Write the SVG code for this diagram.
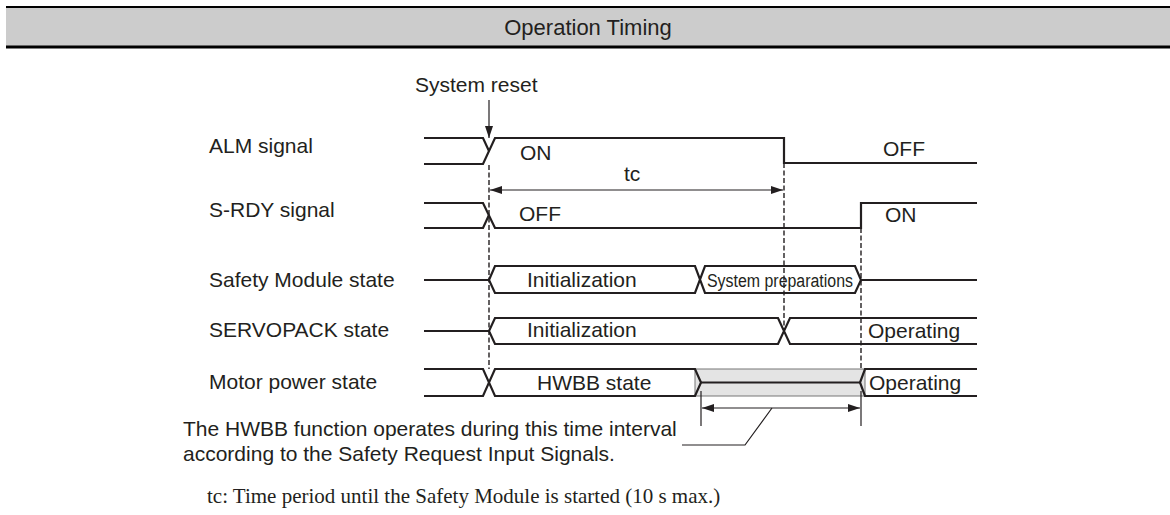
<svg xmlns="http://www.w3.org/2000/svg" width="1170" height="515" viewBox="0 0 1170 515">
<defs>
<style>
.t{font-family:"Liberation Sans",Arial,sans-serif;font-size:21px;fill:#231f20}
.s{font-family:"Liberation Serif","Times New Roman",serif;font-size:21px;fill:#231f20}
.w{fill:none;stroke:#231f20;stroke-width:2.2;stroke-linejoin:miter}
.d{fill:none;stroke:#231f20;stroke-width:1.4;stroke-dasharray:5 2.5}
.a{fill:none;stroke:#231f20;stroke-width:1.2}
</style>
<marker id="ah" viewBox="0 0 12 8" refX="12" refY="4" markerWidth="12" markerHeight="8" markerUnits="userSpaceOnUse" orient="auto-start-reverse">
<path d="M0,0 L12,4 L0,8 Z" fill="#231f20"/>
</marker>
</defs>
<rect width="1170" height="515" fill="#ffffff"/>
<g id="header">
<rect x="6" y="7" width="1164" height="40" fill="#cccccc"/>
<line x1="6" y1="7" x2="1170" y2="7" stroke="#000" stroke-width="2"/>
<line x1="6" y1="47" x2="1170" y2="47" stroke="#000" stroke-width="3"/>
<text class="t" x="588" y="35" text-anchor="middle" style="font-size:22px">Operation Timing</text>
</g>
<g id="labels">
<text class="t" x="209" y="153">ALM signal</text>
<text class="t" x="209" y="217">S-RDY signal</text>
<text class="t" x="209" y="287">Safety Module state</text>
<text class="t" x="209" y="337">SERVOPACK state</text>
<text class="t" x="209" y="389">Motor power state</text>
</g>
<g id="alm">
<path class="w" d="M424,138 H483 L489,151"/>
<path class="w" d="M424,164 H483 L495,138 H784 V163 H977"/>
<text class="t" x="520" y="160">ON</text>
<text class="t" x="883" y="156">OFF</text>
</g>
<g id="srdy">
<path class="w" d="M424,228 H483 L489,215"/>
<path class="w" d="M424,203 H483 L495,228 H861 V203 H977"/>
<text class="t" x="519" y="221">OFF</text>
<text class="t" x="885" y="222">ON</text>
</g>
<g id="safety">
<path class="w" d="M424,280 H489"/>
<path class="w" d="M489,280 L495,266 H695 L705,293 H855 L861,280 L855,266 H705 L695,293 H495 Z"/>
<path class="w" d="M861,280 H977"/>
<text class="t" x="527" y="287">Initialization</text>
<text class="t" x="707" y="287" textLength="146" lengthAdjust="spacingAndGlyphs" style="font-size:18px">System preparations</text>
</g>
<g id="servopack">
<path class="w" d="M424,331 H489"/>
<path class="w" d="M977,318 H790 L778,344 H495 L489,331 L495,318 H778 L790,344 H977"/>
<text class="t" x="527" y="337">Initialization</text>
<text class="t" x="868" y="338">Operating</text>
</g>
<g id="motor">
<rect x="695" y="369" width="170" height="27" fill="#e4e4e4" stroke="#777" stroke-width="1"/>
<path class="w" d="M424,369 H483 L495,396 H695 L701,382.5 L695,369 H495 L483,396 H424"/>
<path class="w" d="M701,382.5 H860"/>
<path class="w" d="M977,369 H865 L860,382.5 L865,396 H977"/>
<text class="t" x="537" y="390">HWBB state</text>
<text class="t" x="869" y="390">Operating</text>
</g>
<g id="connectors">
<line class="d" x1="489" y1="165" x2="489" y2="369"/>
<line class="d" x1="784" y1="163" x2="784" y2="331"/>
<line class="d" x1="861" y1="228" x2="861" y2="369"/>
<line class="a" x1="489" y1="100" x2="489" y2="138" marker-end="url(#ah)"/>
<line class="a" x1="490" y1="190" x2="783" y2="190" marker-start="url(#ah)" marker-end="url(#ah)"/>
<line class="a" x1="701" y1="391" x2="701" y2="426"/>
<line class="a" x1="861" y1="391" x2="861" y2="426"/>
<line class="a" x1="702" y1="408" x2="860" y2="408" marker-start="url(#ah)" marker-end="url(#ah)"/>
<path class="a" d="M772,408 L745,445 H682"/>
</g>
<g id="notes">
<text class="t" x="415" y="92">System reset</text>
<text class="t" x="624" y="181">tc</text>
<text class="t" x="183" y="436">The HWBB function operates during this time interval</text>
<text class="t" x="183" y="461">according to the Safety Request Input Signals.</text>
<text class="s" x="207" y="503">tc: Time period until the Safety Module is started (10 s max.)</text>
</g>
</svg>
